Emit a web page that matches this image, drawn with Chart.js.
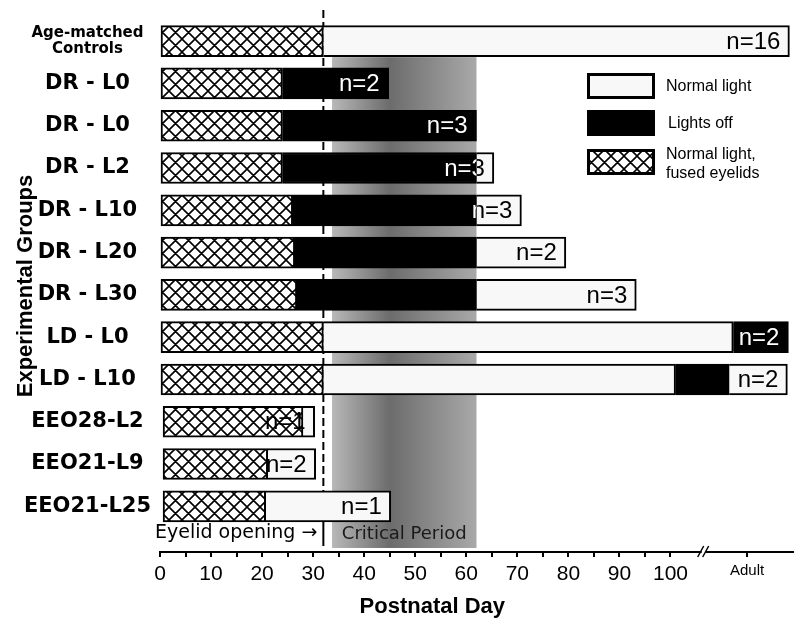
<!DOCTYPE html>
<html>
<head>
<meta charset="utf-8">
<script src="https://cdn.jsdelivr.net/npm/chart.js@4.4.0/dist/chart.umd.min.js"></script>
<style>
  body { margin: 0; background: #fff; }
  #wrap { width: 800px; height: 633px; }
</style>
</head>
<body>
<div id="wrap"><canvas id="groupsChart"></canvas></div>
<script>
// groups, top to bottom
const groups = [['Age-matched', 'Controls'], 'DR - L0', 'DR - L0', 'DR - L2', 'DR - L10', 'DR - L20', 'DR - L30',
                'LD - L0', 'LD - L10', 'EEO28-L2', 'EEO21-L9', 'EEO21-L25'];
const nAnimals = [16, 2, 3, 3, 3, 2, 3, 2, 2, 1, 2, 1];

// [start, end] postnatal day of each phase
const fusedLids = [[0, 32], [0, 24], [0, 24], [0, 24], [0, 26], [0, 26.4], [0, 26.8], [0, 32], [0, 32],
                   [0.6, 28], [0.6, 21.1], [0.6, 20.7]];
const lightsOff = [null, [24, 44.8], [24, 62], [24, 62], [26, 62], [26.4, 62], [26.8, 62],
                   [112.3, 123.1], [101, 111.5], null, null, null];
const normalLight = [[32, 123.3], null, null, [62, 65.4], [62, 70.8], [62, 79.5], [62, 93.3],
                     [32, 112.3], [32, 101], [28, 30.3], [21.1, 30.5], [20.7, 45.2]];
const normalLightAfter = [null, null, null, null, null, null, null, null, [111.5, 122.9], null, null, null];

const dayTicks = [0, 5, 10, 15, 20, 25, 30, 35, 40, 45, 50, 55, 60, 65, 70, 75, 80, 85, 90, 95, 100];
const adultDay = 115;
const axisBreak = 106.7;
const eyelidOpening = 32;
const criticalPeriod = [33.7, 62];

function makeHatch() {
  const s = 13;
  const c = document.createElement('canvas');
  c.width = s; c.height = s;
  const g = c.getContext('2d');
  g.fillStyle = '#fff';
  g.fillRect(0, 0, s, s);
  g.strokeStyle = '#000';
  g.lineWidth = 1.6;
  g.beginPath();
  for (const d of [-s, 0, s]) {
    g.moveTo(d, 0); g.lineTo(d + s, s);
    g.moveTo(d + s, 0); g.lineTo(d, s);
  }
  g.stroke();
  return g.createPattern(c, 'repeat');
}
const hatch = makeHatch();

const toPoints = arr => arr.map((r, i) => r ? { x: r, y: i } : null).filter(Boolean);

// shading + eyelid line behind the bars
const backdrop = {
  id: 'backdrop',
  beforeDatasetsDraw(chart) {
    const { ctx, chartArea, scales: { x, y } } = chart;
    const x0 = x.getPixelForValue(criticalPeriod[0]);
    const x1 = x.getPixelForValue(criticalPeriod[1]);
    const top = y.getPixelForValue(0) + 16;
    const bottom = chartArea.bottom - 4;
    const grad = ctx.createLinearGradient(x0, 0, x1, 0);
    grad.addColorStop(0, '#b8b8b8');
    grad.addColorStop(0.4, '#6c6c6c');
    grad.addColorStop(1, '#a9a9a9');
    ctx.save();
    ctx.fillStyle = grad;
    ctx.fillRect(x0, top, x1 - x0, bottom - top);

    const ex = x.getPixelForValue(eyelidOpening);
    ctx.strokeStyle = '#000';
    ctx.lineWidth = 2;
    ctx.setLineDash([8, 4]);
    ctx.beginPath();
    ctx.moveTo(ex, 10);
    ctx.lineTo(ex, chartArea.bottom - 38);
    ctx.stroke();
    ctx.setLineDash([]);
    ctx.beginPath();
    ctx.moveTo(ex, chartArea.bottom - 38);
    ctx.lineTo(ex, chartArea.bottom - 6);
    ctx.stroke();
    ctx.restore();
  }
};

// n= labels, white where they sit on the black part
const nLabels = {
  id: 'nLabels',
  afterDatasetsDraw(chart) {
    const { ctx, scales: { x, y } } = chart;
    ctx.save();
    ctx.font = '24px "Liberation Sans", Arial, sans-serif';
    ctx.textAlign = 'right';
    ctx.textBaseline = 'middle';
    groups.forEach((g, i) => {
      const segs = [fusedLids[i], lightsOff[i], normalLight[i], normalLightAfter[i]].filter(Boolean);
      const end = Math.max(...segs.map(s => s[1]));
      const tx = x.getPixelForValue(end) - 9;
      const ty = y.getPixelForValue(i) + 1;
      const txt = 'n=' + nAnimals[i];
      ctx.fillStyle = '#000';
      ctx.fillText(txt, tx, ty);
      if (lightsOff[i]) {
        const bx0 = x.getPixelForValue(lightsOff[i][0]);
        const bx1 = x.getPixelForValue(lightsOff[i][1]);
        ctx.save();
        ctx.beginPath();
        ctx.rect(bx0, ty - 17, bx1 - bx0, 34);
        ctx.clip();
        ctx.fillStyle = '#fff';
        ctx.fillText(txt, tx, ty);
        ctx.restore();
      }
    });
    ctx.restore();
  }
};

// legend, notes, axis break and x title
const extras = {
  id: 'extras',
  afterDraw(chart) {
    const { ctx, chartArea, scales: { x } } = chart;
    const ds = chart.data.datasets;
    ctx.save();

    const items = [ds[2], ds[1], ds[0]];
    const tops = [73, 110, 149];
    ctx.font = '16px "Liberation Sans", Arial, sans-serif';
    ctx.textBaseline = 'middle';
    ctx.textAlign = 'left';
    items.forEach((d, k) => {
      const bx = 587, by = tops[k], bw = 68, bh = 26;
      ctx.fillStyle = d.backgroundColor;
      ctx.fillRect(bx, by, bw, bh);
      ctx.strokeStyle = '#000';
      ctx.lineWidth = 3;
      ctx.strokeRect(bx + 1.5, by + 1.5, bw - 3, bh - 3);
      ctx.fillStyle = '#000';
      const parts = d.label.split(', ');
      if (parts.length > 1) {
        ctx.fillText(parts[0] + ',', 666, by + 6);
        ctx.fillText(parts[1], 666, by + 25);
      } else {
        ctx.fillText(d.label, 666 + (k === 1 ? 2 : 0), by + 14);
      }
    });

    const ly = chartArea.bottom - 19;
    const ex = x.getPixelForValue(eyelidOpening);
    ctx.font = '19px "DejaVu Sans", sans-serif';
    ctx.textAlign = 'right';
    ctx.fillStyle = '#000';
    ctx.fillText('Eyelid opening \u2192', ex - 6, ly);
    ctx.font = '18px "DejaVu Sans", sans-serif';
    ctx.textAlign = 'center';
    ctx.fillStyle = '#1a1a1a';
    const cx = (x.getPixelForValue(criticalPeriod[0]) + x.getPixelForValue(criticalPeriod[1])) / 2;
    ctx.fillText('Critical Period', cx, ly + 1);

    // axis break
    const bxp = x.getPixelForValue(axisBreak);
    const ay = chartArea.bottom;
    ctx.fillStyle = '#fff';
    ctx.fillRect(bxp - 3, ay - 3, 4, 6);
    ctx.strokeStyle = '#000';
    ctx.lineWidth = 1.5;
    ctx.beginPath();
    ctx.moveTo(bxp - 7, ay + 5); ctx.lineTo(bxp - 1, ay - 6);
    ctx.moveTo(bxp - 2, ay + 5); ctx.lineTo(bxp + 4, ay - 6);
    ctx.stroke();

    ctx.font = 'bold 22px "Liberation Sans", Arial, sans-serif';
    ctx.textAlign = 'center';
    ctx.fillStyle = '#000';
    ctx.fillText('Postnatal Day', (x.getPixelForValue(0) + bxp) / 2, 607);
    ctx.restore();
  }
};

const common = { borderColor: '#000', borderWidth: 2, barThickness: 31, grouped: false };

new Chart(document.getElementById('groupsChart'), {
  type: 'bar',
  data: {
    datasets: [
      { ...common, label: 'Normal light, fused eyelids', data: toPoints(fusedLids), backgroundColor: hatch, borderSkipped: false },
      { ...common, label: 'Lights off', data: toPoints(lightsOff), backgroundColor: '#000', borderSkipped: 'left' },
      { ...common, label: 'Normal light', data: toPoints(normalLight), backgroundColor: '#f8f8f8', borderSkipped: 'left' },
      { ...common, label: 'Normal light', data: toPoints(normalLightAfter), backgroundColor: '#f8f8f8', borderSkipped: 'left' }
    ]
  },
  options: {
    indexAxis: 'y',
    responsive: true,
    maintainAspectRatio: false,
    animation: false,
    layout: { padding: { top: 20, right: 7, bottom: 0, left: 0 } },
    plugins: { legend: { display: false }, tooltip: { enabled: false } },
    scales: {
      x: {
        type: 'linear',
        min: 0,
        max: 124,
        afterBuildTicks: s => { s.ticks = dayTicks.concat([adultDay]).map(v => ({ value: v })); },
        afterFit: s => { s.height = 81; },
        border: { display: true, color: '#000', width: 2 },
        grid: { display: true, drawOnChartArea: false, drawTicks: true, tickLength: 5, color: '#000', lineWidth: 2 },
        ticks: {
          autoSkip: false,
          maxRotation: 0,
          padding: 5,
          color: '#000',
          font: c => c.tick && c.tick.value === adultDay
            ? { family: 'Liberation Sans', size: 15 }
            : { family: 'Liberation Sans', size: 21 },
          callback: v => v === adultDay ? 'Adult' : (v % 10 === 0 ? String(v) : '')
        }
      },
      y: {
        type: 'linear',
        offset: false,
        reverse: true,
        min: -0.5,
        max: 12.08,
        afterBuildTicks: s => { s.ticks = groups.map((g, i) => ({ value: i })); },
        afterFit: s => { s.width = 160; },
        border: { display: false },
        grid: { display: false },
        title: {
          display: true,
          text: 'Experimental Groups',
          color: '#000',
          padding: { top: 13, bottom: 0 },
          font: { family: 'Liberation Sans', weight: 'bold', size: 22 }
        },
        ticks: {
          crossAlign: 'center',
          padding: 1,
          color: '#000',
          font: c => c.index === 0
            ? { family: 'DejaVu Sans', weight: 'bold', size: 15, lineHeight: 1.1 }
            : { family: 'DejaVu Sans', weight: 'bold', size: 21 },
          callback: v => groups[v]
        }
      }
    }
  },
  plugins: [backdrop, nLabels, extras]
});
</script>
</body>
</html>
